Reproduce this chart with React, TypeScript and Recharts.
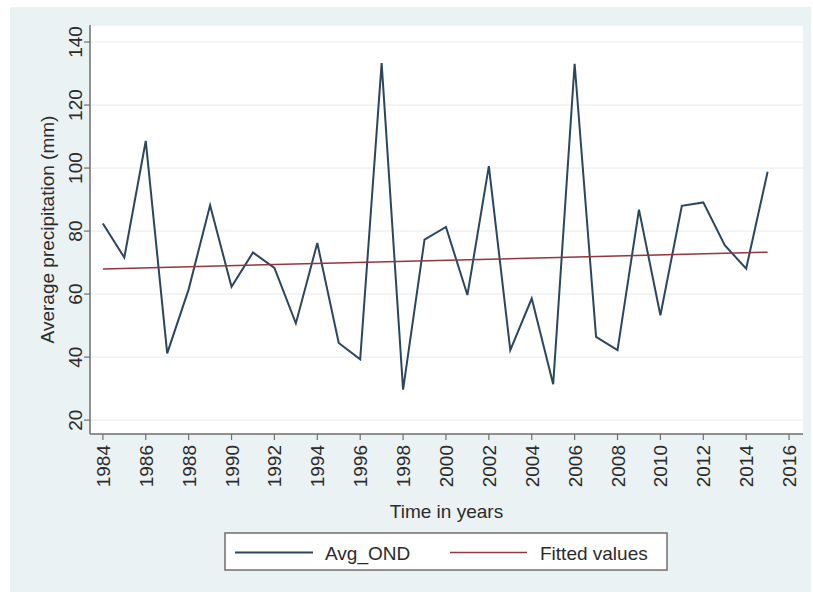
import { LineChart, Line, XAxis, YAxis, CartesianGrid } from "recharts";

// October–December average precipitation per year
const years = [
  1984, 1985, 1986, 1987, 1988, 1989, 1990, 1991, 1992, 1993, 1994,
  1995, 1996, 1997, 1998, 1999, 2000, 2001, 2002, 2003, 2004, 2005,
  2006, 2007, 2008, 2009, 2010, 2011, 2012, 2013, 2014, 2015,
];
const avgOND = [
  82.4, 71.6, 108.6, 41.2, 61.5, 88.2, 62.3, 73.2, 68.3, 50.7, 76.2,
  44.5, 39.3, 133.3, 29.7, 77.3, 81.3, 59.7, 100.6, 42.2, 58.6, 31.4,
  133.1, 46.4, 42.2, 86.8, 53.3, 88.0, 89.1, 75.5, 68.1, 98.8,
];

// linear trend (fitted values) at the ends of the series
const fitYears = [1984, 2015];
const fitted = [68.0, 73.3];

const xTicks = [
  1984, 1986, 1988, 1990, 1992, 1994, 1996, 1998, 2000,
  2002, 2004, 2006, 2008, 2010, 2012, 2014, 2016,
];
const yTicks = [20, 40, 60, 80, 100, 120, 140];

const NAVY = "#2a4660";
const MAROON = "#93363d";
const BG = "#eaf2f3";
const TEXT = "#2b2b2b";
const AXIS = "#6f6f6f";
const FONT = "'Liberation Sans', Arial, sans-serif";
const FS = 19;

const avgRows = years.map((year, i) => ({ year, avg: avgOND[i] }));
const fitRows = fitYears.map((year, i) => ({ year, fit: fitted[i] }));

function YTick({ x, y, payload }: any) {
  return (
    <text x={x} y={y} transform={`rotate(-90 ${x} ${y})`} textAnchor="middle"
      fontSize={FS} fontFamily={FONT} fill={TEXT}>
      {payload.value}
    </text>
  );
}

function XTick({ x, y, payload }: any) {
  const tx = x + 7;
  const ty = y + 3;
  return (
    <text x={tx} y={ty} transform={`rotate(-90 ${tx} ${ty})`} textAnchor="end"
      fontSize={FS} fontFamily={FONT} fill={TEXT}>
      {payload.value}
    </text>
  );
}

function XTitle({ viewBox }: any) {
  return (
    <text x={viewBox.x + viewBox.width / 2} y={viewBox.y + 84} textAnchor="middle"
      fontSize={FS} fontFamily={FONT} fill={TEXT}>
      Time in years
    </text>
  );
}

function YTitle({ viewBox }: any) {
  const cx = 43.5;
  const cy = viewBox.y + viewBox.height / 2;
  return (
    <text x={cx} y={cy} transform={`rotate(-90 ${cx} ${cy})`} textAnchor="middle"
      fontSize={FS} fontFamily={FONT} fill={TEXT}>
      Average precipitation (mm)
    </text>
  );
}

function LegendBox() {
  return (
    <svg width={813} height={594} style={{ position: "absolute", left: 0, top: 0, pointerEvents: "none" }}>
      <rect x={225} y={533} width={442} height={37} fill="#fff" stroke={AXIS} strokeWidth={1.5} />
      <line x1={235} x2={313} y1={552.5} y2={552.5} stroke={NAVY} strokeWidth={2} />
      <text x={325} y={560} fontSize={FS} fontFamily={FONT} fill={TEXT}>Avg_OND</text>
      <line x1={450} x2={527} y1={552.5} y2={552.5} stroke={MAROON} strokeWidth={1.5} />
      <text x={540} y={560} fontSize={FS} fontFamily={FONT} fill={TEXT}>Fitted values</text>
    </svg>
  );
}

export default function App() {
  return (
    <div style={{ position: "absolute", left: 0, top: 0, width: 813, height: 594, background: "#fff" }}>
      <div style={{ position: "absolute", left: 10, top: 7 }}>
        <LineChart width={801} height={585} margin={{ top: 18, right: 8, bottom: 0, left: 0 }}
          style={{ background: BG }}>
          <CartesianGrid vertical={false} fill="#ffffff" stroke="#e3ebee" strokeWidth={1} />
          <XAxis dataKey="year" type="number" domain={[1983.4, 2016.65]} ticks={xTicks}
            height={158} tickSize={6} tickMargin={2} interval={0}
            axisLine={{ stroke: AXIS, strokeWidth: 1.5 }} tickLine={{ stroke: AXIS, strokeWidth: 1.2 }}
            tick={<XTick />} label={{ content: <XTitle /> }} allowDuplicatedCategory={false} />
          <YAxis type="number" domain={[15.6, 145.4]} ticks={yTicks} width={80}
            tickSize={6} tickMargin={2} interval={0}
            axisLine={{ stroke: AXIS, strokeWidth: 1.5 }} tickLine={{ stroke: AXIS, strokeWidth: 1.2 }}
            tick={<YTick />} label={{ content: <YTitle /> }} />
          <Line data={avgRows} dataKey="avg" type="linear" stroke={NAVY} strokeWidth={2}
            dot={false} isAnimationActive={false} />
          <Line data={fitRows} dataKey="fit" type="linear" stroke={MAROON} strokeWidth={1.5}
            dot={false} isAnimationActive={false} />
        </LineChart>
      </div>
      <LegendBox />
    </div>
  );
}
